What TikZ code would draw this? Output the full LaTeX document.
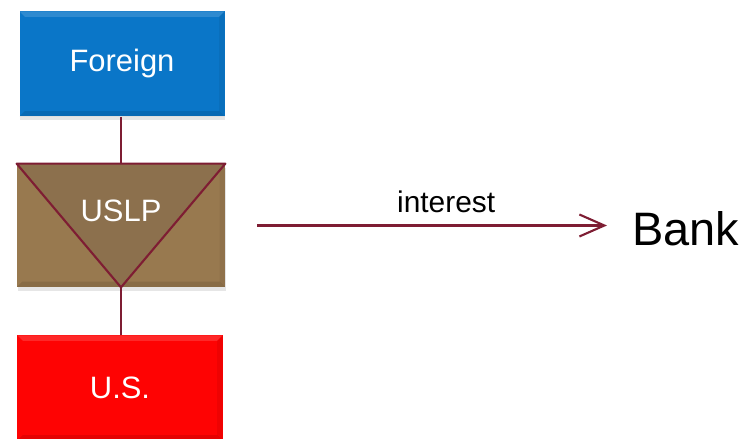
\documentclass[tikz,border=0pt]{standalone}
\usepackage{fontspec}
\setmainfont{Liberation Sans}
\usetikzlibrary{positioning}
\usetikzlibrary{arrows.meta}
\usetikzlibrary{shadows}
\definecolor{foreignblue}{HTML}{0A76C8}
\definecolor{usred}{HTML}{FE0303}
\definecolor{uslpbrown}{HTML}{98794F}
\definecolor{uslpdark}{HTML}{8C704D}
\definecolor{linkred}{HTML}{7E1D33}
\tikzset {
  % flat boxes with a bit of bevel and a soft shadow
  box/.style = {minimum width=4.1cm, minimum height=2.1cm, inner sep=0pt,
    text=white, font=\fontsize{17.6}{20}\selectfont,
    drop shadow={opacity=0.2, shadow xshift=0.5pt, shadow yshift=-2pt},
    path picture={
      \fill[white, opacity=0.15] (path picture bounding box.north west)
        -- (path picture bounding box.north east)
        -- ([xshift=-3pt,yshift=-3pt]path picture bounding box.north east)
        -- ([xshift=3pt,yshift=-3pt]path picture bounding box.north west) -- cycle;
      \fill[black, opacity=0.10] (path picture bounding box.south west)
        -- (path picture bounding box.south east)
        -- ([xshift=-3pt,yshift=3pt]path picture bounding box.south east)
        -- ([xshift=3pt,yshift=3pt]path picture bounding box.south west) -- cycle;
      \fill[black, opacity=0.06] (path picture bounding box.north east)
        -- (path picture bounding box.south east)
        -- ([xshift=-3pt,yshift=3pt]path picture bounding box.south east)
        -- ([xshift=-3pt,yshift=-3pt]path picture bounding box.north east) -- cycle;
    }},
  % connectors between the boxes
  link/.style = {linkred, line width=1.2pt},
  flow/.style = {linkred, line width=1.2pt, -{Straight Barb[length=0.5cm, width=0.44cm, line width=1.2pt]}},
}

\begin{document}
\begin{tikzpicture}
  \useasboundingbox (0,0) rectangle (14.92,8.78);

  \node[box, fill=foreignblue] (foreign) at (2.44,7.5) {Foreign};
  \node[box, fill=uslpbrown, minimum width=4.16cm, minimum height=2.46cm] (uslp) at (2.42,4.27) {};
  \node[box, fill=usred] (us) at (2.4,1.02) {U.S.};

  % the V inside the USLP box
  \filldraw[fill=uslpdark, draw=linkred, line width=1.2pt, line join=round]
    (uslp.north west) -- (uslp.north east) -- (uslp.south) -- cycle;
  \node[text=white, font=\fontsize{17.6}{20}\selectfont] (uslptext) at ([yshift=0.3cm]uslp.center) {USLP};

  \draw[link] (foreign.south -| uslp.south) -- (uslp.north -| uslp.south);
  \draw[link] (uslp.south) -- (us.north -| uslp.south);

  \node[anchor=west, inner sep=0pt, font=\fontsize{26.7}{30}\selectfont] (bank) at (12.64,4.2) {Bank};

  \draw[flow] ([xshift=0.64cm]uslp.east) -- node[pos=0.54, above, inner sep=6.5pt, text=black, font=\fontsize{17}{20}\selectfont] (interest) {interest} ([xshift=-0.5cm]uslp.east -| bank.west);
\end{tikzpicture}
\end{document}
